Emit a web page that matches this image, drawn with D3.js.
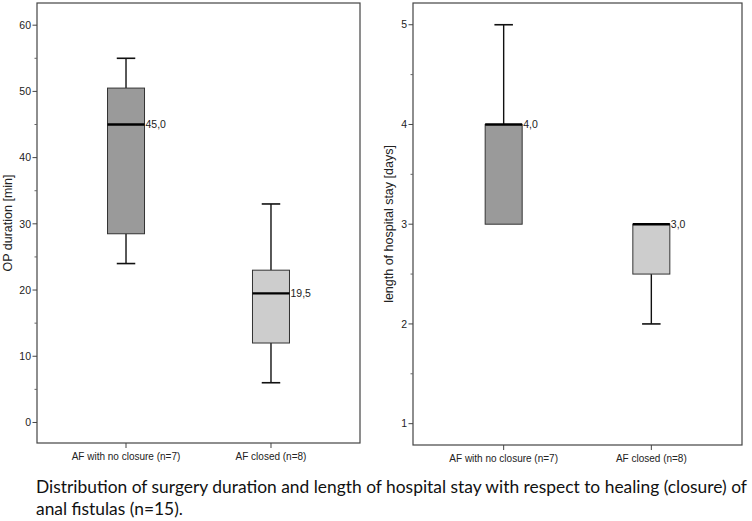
<!DOCTYPE html>
<html>
<head>
<meta charset="utf-8">
<script src="https://cdn.jsdelivr.net/npm/d3@7"></script>
<style>
  body { margin: 0; background: #fff; }
  svg { display: block; }
  .tick-label, .cat-label, .axis-title, .median-label {
    font-family: "Liberation Sans Narrow", "Arial Narrow", "Liberation Sans", sans-serif;
    fill: #222;
  }
  .caption { font-family: Lato, "Open Sans", sans-serif; fill: #111; }
</style>
</head>
<body>
<div id="chart"></div>
<script>
// categories and box statistics
const categories = ['AF with no closure (n=7)', 'AF closed (n=8)'];
const boxFills = ['#9a9a9a', '#cdcdcd'];

const opMin = [24, 6];
const opQ1 = [28.5, 12];
const opMedian = [45, 19.5];
const opQ3 = [50.5, 23];
const opMax = [55, 33];
const opTicks = [0, 10, 20, 30, 40, 50, 60];
const opMinorTicks = [5, 15, 25, 35, 45, 55];

const stayMin = [3, 2];
const stayQ1 = [3, 2.5];
const stayMedian = [4, 3];
const stayQ3 = [4, 3];
const stayMax = [5, 3];
const stayTicks = [1, 2, 3, 4, 5];
const stayMinorTicks = [1.5, 2.5, 3.5, 4.5];

const captionLines = [
  'Distribution of surgery duration and length of hospital stay with respect to healing (closure) of',
  'anal fistulas (n=15).'
];

const width = 752;
const height = 521;

const svg = d3.select('#chart')
  .append('svg')
  .attr('width', width)
  .attr('height', height);

const fmtComma = v => d3.format('.1f')(v).replace('.', ',');

function drawPanel(opts) {
  const { left, right, top, bottom, domain, ticks, minorTicks, title, titleX, titleSize } = opts;

  const y = d3.scaleLinear().domain(domain).range([bottom, top]);
  const x = d3.scalePoint().domain(categories).range([left, right]).padding(0.614);

  const g = svg.append('g');

  // frame
  g.append('rect')
    .attr('x', left)
    .attr('y', top)
    .attr('width', right - left)
    .attr('height', bottom - top)
    .attr('fill', 'none')
    .attr('stroke', '#444')
    .attr('stroke-width', 1.2);

  // y ticks
  g.selectAll('.ytick')
    .data(ticks)
    .join('line')
    .attr('x1', left - 4.5)
    .attr('x2', left)
    .attr('y1', d => y(d))
    .attr('y2', d => y(d))
    .attr('stroke', '#444');

  g.selectAll('.yminor')
    .data(minorTicks)
    .join('line')
    .attr('x1', left - 2.5)
    .attr('x2', left)
    .attr('y1', d => y(d))
    .attr('y2', d => y(d))
    .attr('stroke', '#666');

  g.selectAll('.tick-label')
    .data(ticks)
    .join('text')
    .attr('class', 'tick-label')
    .attr('x', left - 6)
    .attr('y', d => y(d))
    .attr('dy', '0.35em')
    .attr('text-anchor', 'end')
    .attr('font-size', 10.5)
    .text(d => d);

  // x ticks and labels
  g.selectAll('.xtick')
    .data(categories)
    .join('line')
    .attr('x1', d => x(d))
    .attr('x2', d => x(d))
    .attr('y1', bottom)
    .attr('y2', bottom + 5)
    .attr('stroke', '#444');

  g.selectAll('.cat-label')
    .data(categories)
    .join('text')
    .attr('class', 'cat-label')
    .attr('x', d => x(d))
    .attr('y', bottom + 17)
    .attr('text-anchor', 'middle')
    .attr('font-size', 10)
    .text(d => d);

  // y title
  g.append('text')
    .attr('class', 'axis-title')
    .attr('transform', `translate(${titleX},${(top + bottom) / 2}) rotate(-90)`)
    .attr('text-anchor', 'middle')
    .attr('dy', '0.35em')
    .attr('font-size', titleSize)
    .text(title);

  // boxes
  const boxW = 37;
  const capW = boxW / 2;
  const rows = categories.map((c, i) => ({
    cat: c,
    min: opts.min[i],
    q1: opts.q1[i],
    median: opts.median[i],
    q3: opts.q3[i],
    max: opts.max[i],
    fill: boxFills[i]
  }));

  const box = g.selectAll('.box')
    .data(rows)
    .join('g')
    .attr('class', 'box');

  // whiskers
  box.append('line')
    .attr('x1', d => x(d.cat))
    .attr('x2', d => x(d.cat))
    .attr('y1', d => y(d.max))
    .attr('y2', d => y(d.q3))
    .attr('stroke', '#111')
    .attr('stroke-width', 1.4);

  box.append('line')
    .attr('x1', d => x(d.cat))
    .attr('x2', d => x(d.cat))
    .attr('y1', d => y(d.q1))
    .attr('y2', d => y(d.min))
    .attr('stroke', '#111')
    .attr('stroke-width', 1.4);

  box.filter(d => d.max > d.q3).append('line')
    .attr('x1', d => x(d.cat) - capW / 2)
    .attr('x2', d => x(d.cat) + capW / 2)
    .attr('y1', d => y(d.max))
    .attr('y2', d => y(d.max))
    .attr('stroke', '#111')
    .attr('stroke-width', 1.6);

  box.filter(d => d.min < d.q1).append('line')
    .attr('x1', d => x(d.cat) - capW / 2)
    .attr('x2', d => x(d.cat) + capW / 2)
    .attr('y1', d => y(d.min))
    .attr('y2', d => y(d.min))
    .attr('stroke', '#111')
    .attr('stroke-width', 1.6);

  box.append('rect')
    .attr('x', d => x(d.cat) - boxW / 2)
    .attr('y', d => y(d.q3))
    .attr('width', boxW)
    .attr('height', d => y(d.q1) - y(d.q3))
    .attr('fill', d => d.fill)
    .attr('stroke', '#333')
    .attr('stroke-width', 1);

  box.append('line')
    .attr('x1', d => x(d.cat) - boxW / 2)
    .attr('x2', d => x(d.cat) + boxW / 2)
    .attr('y1', d => y(d.median))
    .attr('y2', d => y(d.median))
    .attr('stroke', '#000')
    .attr('stroke-width', 2.4);

  box.append('text')
    .attr('class', 'median-label')
    .attr('x', d => x(d.cat) + boxW / 2 + 1)
    .attr('y', d => y(d.median))
    .attr('dy', '0.35em')
    .attr('font-size', 10.5)
    .text(d => fmtComma(d.median));
}

drawPanel({
  left: 37, right: 360, top: 3, bottom: 443,
  domain: [-3.1, 63.35],
  ticks: opTicks, minorTicks: opMinorTicks,
  title: 'OP duration [min]', titleX: 8, titleSize: 12.5,
  min: opMin, q1: opQ1, median: opMedian, q3: opQ3, max: opMax
});

drawPanel({
  left: 413, right: 742, top: 3, bottom: 445,
  domain: [0.786, 5.218],
  ticks: stayTicks, minorTicks: stayMinorTicks,
  title: 'length of hospital stay [days]', titleX: 389, titleSize: 12.5,
  min: stayMin, q1: stayQ1, median: stayMedian, q3: stayQ3, max: stayMax
});

svg.selectAll('.caption')
  .data(captionLines)
  .join('text')
  .attr('class', 'caption')
  .attr('x', 36)
  .attr('y', (d, i) => 493 + i * 22)
  .attr('font-size', 17.4)
  .text(d => d);
</script>
</body>
</html>
